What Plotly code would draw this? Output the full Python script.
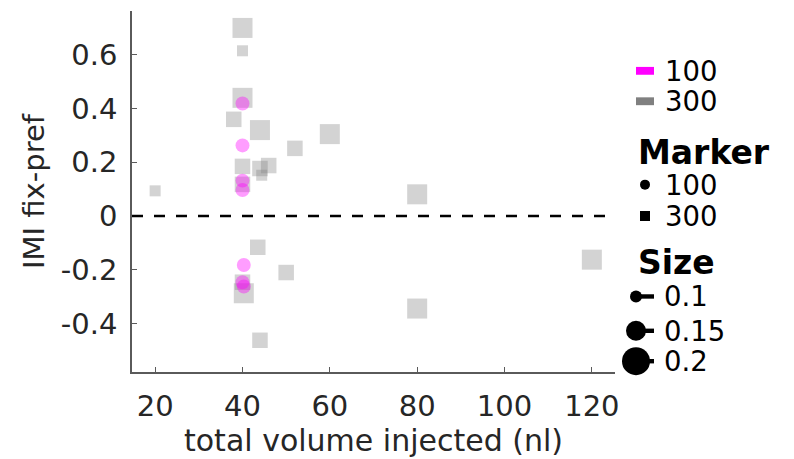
import plotly.graph_objects as go

# ---- data ----
sq_x = [40, 40, 40, 38, 44, 52, 60, 40, 44, 46, 44.4, 40, 20, 80, 43.5, 50, 40, 40.3, 44, 120, 80]
sq_y = [0.70, 0.615, 0.44, 0.36, 0.32, 0.252, 0.305, 0.185, 0.177, 0.188, 0.152, 0.118, 0.094, 0.081,
        -0.116, -0.21, -0.246, -0.287, -0.462, -0.162, -0.344]
sq_size = [0.2, 0.1, 0.2, 0.15, 0.2, 0.15, 0.2, 0.15, 0.15, 0.15, 0.1, 0.15, 0.1, 0.2,
           0.15, 0.15, 0.15, 0.2, 0.15, 0.2, 0.2]

ci_x = [40, 40, 40, 40, 40.3, 40, 40.3]
ci_y = [0.419, 0.263, 0.132, 0.097, -0.182, -0.246, -0.262]
ci_size = [0.15, 0.15, 0.15, 0.15, 0.15, 0.15, 0.15]

x_ticks = [20, 40, 60, 80, 100, 120]
y_ticks = [-0.4, -0.2, 0, 0.2, 0.4, 0.6]
y_ticktext = ["-0.4", "-0.2", "0", "0.2", "0.4", "0.6"]

color_labels = ["100", "300"]
marker_labels = ["100", "300"]
size_labels = ["0.1", "0.15", "0.2"]

# ---- layout geometry (pixels) ----
W, H = 794, 459
L, R, T, B = 132, 615, 11, 379
FONT = "DejaVu Sans"
TXT = "#262626"
AX = "#5a5a5a"


def px(v):
    return (v - L) / (R - L)


def py(v):
    return (B - v) / (B - T)


def sq_px(s):
    return 90 * s + 2


fig = go.Figure()

fig.add_trace(go.Scatter(
    x=sq_x, y=sq_y, mode="markers",
    marker=dict(symbol="square", size=[sq_px(s) for s in sq_size],
                color="rgba(128,128,128,0.5)", line=dict(width=0)),
    showlegend=False, hoverinfo="skip"))

fig.add_trace(go.Scatter(
    x=ci_x, y=ci_y, mode="markers",
    marker=dict(symbol="circle", size=[0.9 * sq_px(s) for s in ci_size],
                color="rgba(255,0,255,0.55)", line=dict(width=0)),
    showlegend=False, hoverinfo="skip"))

shapes = []
annotations = []

# dashed zero line
shapes.append(dict(type="line", xref="paper", yref="y", x0=0, x1=1, y0=0, y1=0,
                   line=dict(color="black", width=2.5, dash="11px,11px"), layer="above"))

# --- legend: colors ---
leg_cols = ["magenta", "rgb(128,128,128)"]
leg_y = [72, 103]
for lab, col, yy in zip(color_labels, leg_cols, leg_y):
    shapes.append(dict(type="rect", xref="paper", yref="paper",
                       x0=px(636), x1=px(654), y0=py(yy + 4), y1=py(yy - 4),
                       fillcolor=col, line=dict(width=0)))
    annotations.append(dict(text=lab, xref="paper", yref="paper", x=px(663), y=py(yy),
                            xanchor="left", yanchor="middle", showarrow=False,
                            font=dict(family=FONT, size=27.5, color="black")))

# --- legend: marker ---
annotations.append(dict(text="<b>Marker</b>", xref="paper", yref="paper", x=px(636), y=py(155),
                        xanchor="left", yanchor="middle", showarrow=False,
                        font=dict(family=FONT, size=33, color="black")))
mk_y = [188, 220]
mk_types = ["circle", "rect"]
for lab, typ, yy in zip(marker_labels, mk_types, mk_y):
    shapes.append(dict(type=typ, xref="paper", yref="paper", xsizemode="pixel", ysizemode="pixel",
                       xanchor=px(645), yanchor=py(yy), x0=-5, x1=5, y0=-5, y1=5,
                       fillcolor="black", line=dict(width=0)))
    annotations.append(dict(text=lab, xref="paper", yref="paper", x=px(663), y=py(yy),
                            xanchor="left", yanchor="middle", showarrow=False,
                            font=dict(family=FONT, size=27.5, color="black")))

# --- legend: size ---
annotations.append(dict(text="<b>Size</b>", xref="paper", yref="paper", x=px(636), y=py(267),
                        xanchor="left", yanchor="middle", showarrow=False,
                        font=dict(family=FONT, size=33, color="black")))
sz_y = [302, 337, 368]
sz_d = [12, 20, 28]
for lab, d, yy in zip(size_labels, sz_d, sz_y):
    shapes.append(dict(type="rect", xref="paper", yref="paper", xsizemode="pixel", ysizemode="pixel",
                       xanchor=px(636), yanchor=py(yy), x0=0, x1=18, y0=-2.2, y1=2.2,
                       fillcolor="black", line=dict(width=0)))
    shapes.append(dict(type="circle", xref="paper", yref="paper", xsizemode="pixel", ysizemode="pixel",
                       xanchor=px(636), yanchor=py(yy), x0=-d / 2, x1=d / 2, y0=-d / 2, y1=d / 2,
                       fillcolor="black", line=dict(width=0)))
    annotations.append(dict(text=lab, xref="paper", yref="paper", x=px(662), y=py(yy),
                            xanchor="left", yanchor="middle", showarrow=False,
                            font=dict(family=FONT, size=27.5, color="black")))

axis_common = dict(showline=True, linecolor=AX, linewidth=1.5, ticks="inside", ticklen=5,
                   tickcolor=AX, tickwidth=1.2, showgrid=False, zeroline=False,
                   tickfont=dict(family=FONT, size=29, color=TXT), mirror=False)

fig.update_layout(
    width=W, height=H,
    margin=dict(l=L, r=W - R, t=T, b=H - B),
    paper_bgcolor="white", plot_bgcolor="white",
    xaxis=dict(range=[14.7, 125.3], tickvals=x_ticks, ticklabelstandoff=7,
               title=dict(text="total volume injected (nl)", standoff=4,
                          font=dict(family=FONT, size=30, color=TXT)),
               **axis_common),
    yaxis=dict(range=[-0.58, 0.763], tickvals=y_ticks, ticktext=y_ticktext, ticklabelstandoff=7,
               title=dict(text="IMI fix-pref", standoff=8,
                          font=dict(family=FONT, size=29, color=TXT)),
               **axis_common),
    shapes=shapes, annotations=annotations,
)

fig.write_html("out.html")
